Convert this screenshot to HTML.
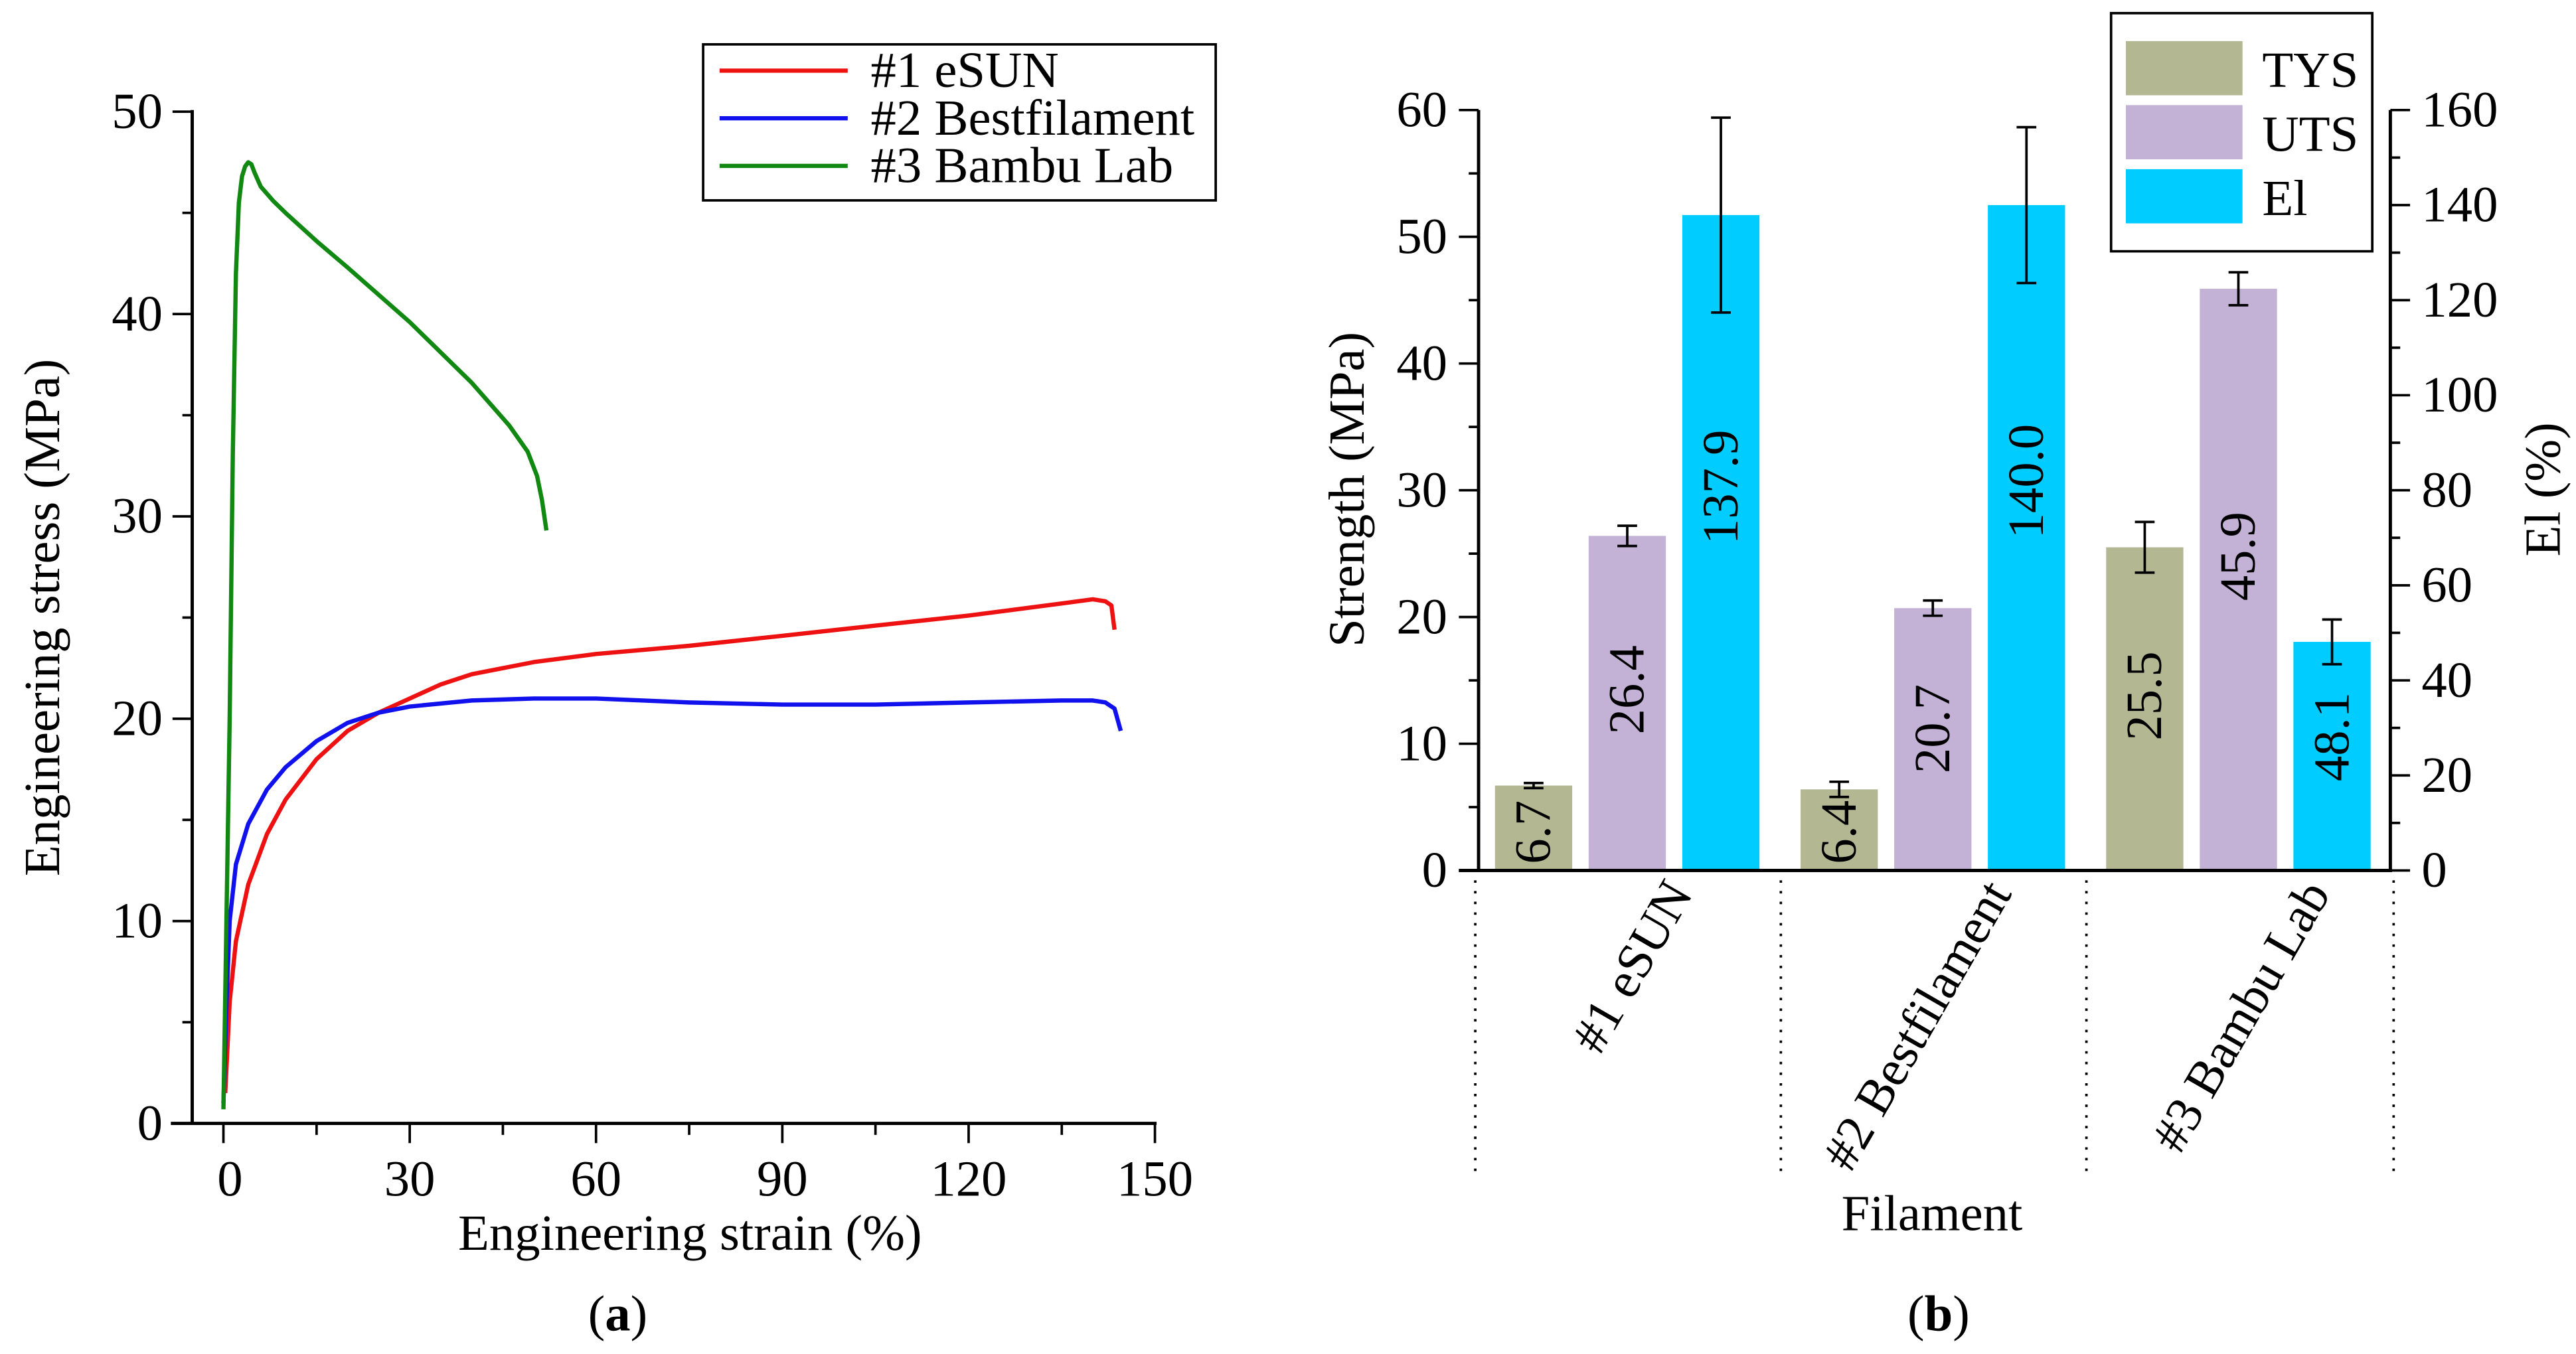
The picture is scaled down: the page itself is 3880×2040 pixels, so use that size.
<!DOCTYPE html>
<html><head><meta charset="utf-8">
<style>
html,body{margin:0;padding:0;background:#fff;}
svg{display:block;font-family:"Liberation Serif",serif;}
</style></head>
<body>
<svg id="fig" xmlns="http://www.w3.org/2000/svg" width="3880" height="2040" viewBox="0 0 1568 824.4">
<g id="chartA"></g>
<g id="chartB"></g>
</svg>
<script>
// ---- Chart (a) data ----
const seriesNames = ["#1 eSUN", "#2 Bestfilament", "#3 Bambu Lab"];
const seriesColors = ["#ee1111", "#1111ee", "#118811"];
const esunStrain = [0.3,1,2,4,7,10,15,20,25,30,35,40,50,60,75,90,105,120,135,140,142,143,143.5];
const esunStress = [1.5,6,9,11.8,14.3,16,18,19.4,20.3,21,21.7,22.2,22.8,23.2,23.6,24.1,24.6,25.1,25.7,25.9,25.8,25.6,24.4];
const bestStrain = [0,0.5,1,2,4,7,10,15,20,25,30,40,50,60,75,90,105,120,135,140,142,143.5,144.5];
const bestStress = [1,6,10,12.8,14.8,16.5,17.6,18.9,19.8,20.3,20.6,20.9,21,21,20.8,20.7,20.7,20.8,20.9,20.9,20.8,20.5,19.4];
const bambuStrain = [0,1,1.5,2,2.5,3,3.5,4,4.5,5,6,8,10,15,20,30,40,46,49,50.5,51.3,52];
const bambuStress = [0.7,20,33,42,45.5,46.8,47.3,47.5,47.4,47,46.3,45.6,45,43.6,42.3,39.6,36.6,34.5,33.2,32,30.8,29.3];
const xTicksA = [0,30,60,90,120,150];
const yTicksA = [0,10,20,30,40,50];

// ---- Chart (b) data ----
const categories = ["#1 eSUN", "#2 Bestfilament", "#3 Bambu Lab"];
const tys = [6.7, 6.4, 25.5];
const tysErr = [0.2, 0.6, 2.0];
const uts = [26.4, 20.7, 45.9];
const utsErr = [0.8, 0.6, 1.3];
const el = [137.9, 140.0, 48.1];
const elErr = [20.5, 16.4, 4.7];
const yTicksB = [0,10,20,30,40,50,60];
const yTicksEl = [0,20,40,60,80,100,120,140,160];

const NS = "http://www.w3.org/2000/svg";
function mk(parent, tag, attrs, text){
  const e = document.createElementNS(NS, tag);
  for (const k in attrs) e.setAttribute(k, attrs[k]);
  if (text !== undefined) e.textContent = text;
  parent.appendChild(e);
  return e;
}
const FS = 31;

// ===== Chart A =====
const A = document.getElementById('chartA');
const ax = v => 136 + v * (567/150);
const ay = v => 684 - v * (616/50);
let e;
e = mk(A,'line',{x1:117,y1:67,x2:117,y2:685,stroke:'#000','stroke-width':2});
 
e = mk(A,'line',{x1:104,y1:684,x2:704,y2:684,stroke:'#000','stroke-width':2});
 
for (let v=0; v<=50; v+=5){
  e = mk(A,'line',{x1:(v%10===0?105:111),y1:ay(v),x2:117,y2:ay(v),stroke:'#000','stroke-width':1.5});
   
}
yTicksA.forEach(v=>{
  e = mk(A,'text',{x:99,y:ay(v)+10,'text-anchor':'end','font-size':FS},String(v));
   
});
for (let v=0; v<=150; v+=15){
  e = mk(A,'line',{x1:ax(v),y1:684,x2:ax(v),y2:(v%30===0?696:691),stroke:'#000','stroke-width':1.5});
   
}
xTicksA.forEach(v=>{
  e = mk(A,'text',{x:ax(v)+(v===0?4:0),y:728,'text-anchor':'middle','font-size':FS},String(v));
   
});
e = mk(A,'text',{x:420,y:761,'text-anchor':'middle','font-size':FS},'Engineering strain (%)');
 
e = mk(A,'text',{x:0,y:0,'text-anchor':'middle','font-size':FS,transform:'translate(36,376) rotate(-90)'},'Engineering stress (MPa)');
 
e = mk(A,'text',{x:376,y:810,'text-anchor':'middle','font-size':FS},'(');
 
mk(e,'tspan',{'font-weight':'bold'},'a'); mk(e,'tspan',{},')');
const curves = [[esunStrain,esunStress],[bestStrain,bestStress],[bambuStrain,bambuStress]];
const curveNames = ['curve-esun','curve-bestfilament','curve-bambu-lab'];
curves.forEach((c,i)=>{
  const d = c[0].map((x,j)=>(j?'L':'M')+ax(x).toFixed(1)+','+ay(c[1][j]).toFixed(1)).join(' ');
  const p = mk(A,'path',{d:d,fill:'none',stroke:seriesColors[i],'stroke-width':2.6,'stroke-linejoin':'round'});
  
  
});
e = mk(A,'rect',{x:428,y:27,width:312,height:95,fill:'#fff',stroke:'#000','stroke-width':1.5});
 
seriesNames.forEach((n,i)=>{
  const y = 43 + i*29;
  const g = mk(A,'g',{});
   
  mk(g,'line',{x1:438,y1:y,x2:516,y2:y,stroke:seriesColors[i],'stroke-width':2.6});
  mk(g,'text',{x:530,y:y+10,'font-size':FS},n);
});

// ===== Chart B =====
const B = document.getElementById('chartB');
const by = v => 530 - v * (463/60);
const byEl = v => 530 - v * (463/160);
const groupW = 186, gx0 = 898;
const barOff = [12, 69, 126], barW = 47;
const barColors = ['#b3b893','#c3b1d6','#00ccff'];
const sets = [[tys,tysErr,by,'bar-tys'],[uts,utsErr,by,'bar-uts'],[el,elErr,byEl,'bar-el']];
categories.forEach((c,gi)=>{
  sets.forEach((s,si)=>{
    const [vals,errs,sc,nm] = s;
    const x = gx0 + gi*groupW + barOff[si];
    const top = sc(vals[gi]);
    const r = mk(B,'rect',{x:x,y:top,width:barW,height:530-top,fill:barColors[si]});
    
    
    const cx = x + barW/2;
    const eh = sc(vals[gi]+errs[gi]), el2 = sc(vals[gi]-errs[gi]);
    const eb = mk(B,'path',{d:`M${cx},${eh} L${cx},${el2} M${cx-6},${eh} L${cx+6},${eh} M${cx-6},${el2} L${cx+6},${el2}`,stroke:'#000','stroke-width':1.5,fill:'none'});
    
    
    const h = 530 - top;
    let lbl;
    if (h < 60){
      lbl = mk(B,'text',{x:0,y:0,'text-anchor':'start','font-size':FS,transform:`translate(${cx+10},526) rotate(-90)`},vals[gi].toFixed(1));
    } else {
      const cy = (top+530)/2 - (si===2 ? 0.085*h : 0.04*h);
      lbl = mk(B,'text',{x:0,y:0,'text-anchor':'middle','font-size':FS,transform:`translate(${cx+10},${cy}) rotate(-90)`},vals[gi].toFixed(1));
    }
    
    
  });
  const lx = gx0 + gi*groupW + groupW/2 + 40 + gi*8;
  const t = mk(B,'text',{x:0,y:0,'text-anchor':'end','font-size':FS,transform:`translate(${lx},544) rotate(-60)`},c);
  
  
});
for (let i=0;i<=3;i++){
  const x = gx0 + i*groupW + (i===3?1:0);
  e = mk(B,'line',{x1:x,y1:536,x2:x,y2:716,stroke:'#000','stroke-width':1.5,'stroke-dasharray':'1.5 5'});
   
}
e = mk(B,'line',{x1:900,y1:67,x2:900,y2:531,stroke:'#000','stroke-width':2});
 
e = mk(B,'line',{x1:1455,y1:67,x2:1455,y2:531,stroke:'#000','stroke-width':2});
 
e = mk(B,'line',{x1:888,y1:530,x2:1456,y2:530,stroke:'#000','stroke-width':2});
 
for (let v=0; v<=60; v+=5){
  e = mk(B,'line',{x1:(v%10===0?888:894),y1:by(v),x2:900,y2:by(v),stroke:'#000','stroke-width':1.5});
   
}
yTicksB.forEach(v=>{
  e = mk(B,'text',{x:881,y:by(v)+10,'text-anchor':'end','font-size':FS},String(v));
   
});
for (let v=0; v<=160; v+=10){
  e = mk(B,'line',{x1:1455,y1:byEl(v),x2:(v%20===0?1467:1461),y2:byEl(v),stroke:'#000','stroke-width':1.5});
   
}
yTicksEl.forEach(v=>{
  e = mk(B,'text',{x:1474,y:byEl(v)+10,'text-anchor':'start','font-size':FS},String(v));
   
});
e = mk(B,'text',{x:0,y:0,'text-anchor':'middle','font-size':FS,transform:'translate(830,298) rotate(-90)'},'Strength (MPa)');
 
e = mk(B,'text',{x:0,y:0,'text-anchor':'middle','font-size':FS,transform:'translate(1558,298) rotate(-90)'},'El (%)');
 
e = mk(B,'text',{x:1176,y:749,'text-anchor':'middle','font-size':FS},'Filament');
 
e = mk(B,'text',{x:1180,y:810,'text-anchor':'middle','font-size':FS},'(');
 
mk(e,'tspan',{'font-weight':'bold'},'b'); mk(e,'tspan',{},')');
e = mk(B,'rect',{x:1285,y:8,width:159,height:145,fill:'#fff',stroke:'#000','stroke-width':1.5});
 
['TYS','UTS','El'].forEach((n,i)=>{
  const y = 25 + i*39;
  const g = mk(B,'g',{});
   
  mk(g,'rect',{x:1294,y:y,width:71,height:33,fill:barColors[i]});
  mk(g,'text',{x:1377,y:y+28,'font-size':FS},n);
});
</script>
</body></html>
